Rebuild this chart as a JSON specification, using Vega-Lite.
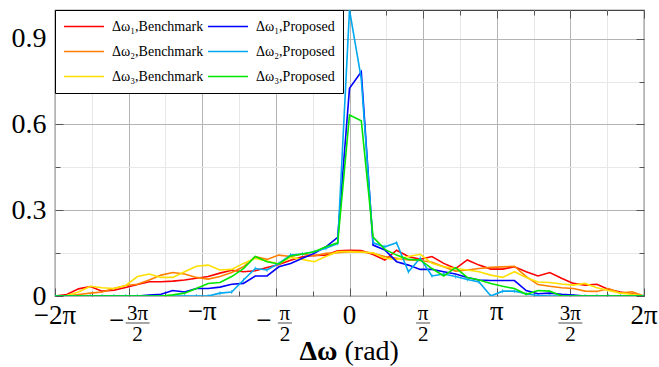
{
  "$schema": "https://vega.github.io/schema/vega-lite/v6.json",
  "width": 589,
  "height": 286,
  "autosize": {"type": "none"},
  "padding": {"left": 55, "top": 10, "right": 15, "bottom": 71},
  "background": "white",
  "config": {
    "view": {"stroke": "#444444", "strokeWidth": 1.2},
    "font": "Liberation Serif, Times New Roman, Times, serif"
  },
  "datasets": {
    "hist": [
      {"x": -6.2832, "b1": 0, "b2": 0, "b3": 0, "p1": 0, "p2": 0, "p3": 0},
      {"x": -6.0319, "b1": 0.005, "b2": 0, "b3": 0.002, "p1": 0, "p2": 0, "p3": 0},
      {"x": -5.7805, "b1": 0.025, "b2": 0.005, "b3": 0.014, "p1": 0, "p2": 0, "p3": 0},
      {"x": -5.5292, "b1": 0.033, "b2": 0.01, "b3": 0.034, "p1": 0, "p2": 0, "p3": 0},
      {"x": -5.2779, "b1": 0.017, "b2": 0.014, "b3": 0.029, "p1": 0, "p2": 0, "p3": 0},
      {"x": -5.0265, "b1": 0.02, "b2": 0.026, "b3": 0.026, "p1": 0, "p2": 0, "p3": 0},
      {"x": -4.7752, "b1": 0.03, "b2": 0.037, "b3": 0.037, "p1": 0, "p2": 0, "p3": 0},
      {"x": -4.5239, "b1": 0.04, "b2": 0.041, "b3": 0.068, "p1": 0, "p2": 0, "p3": 0},
      {"x": -4.2726, "b1": 0.05, "b2": 0.056, "b3": 0.077, "p1": 0.003, "p2": 0, "p3": 0},
      {"x": -4.0212, "b1": 0.05, "b2": 0.073, "b3": 0.065, "p1": 0.006, "p2": 0, "p3": 0},
      {"x": -3.7699, "b1": 0.052, "b2": 0.082, "b3": 0.065, "p1": 0.019, "p2": 0, "p3": 0.004},
      {"x": -3.5186, "b1": 0.056, "b2": 0.077, "b3": 0.085, "p1": 0.014, "p2": 0, "p3": 0.01},
      {"x": -3.2673, "b1": 0.062, "b2": 0.065, "b3": 0.104, "p1": 0.026, "p2": 0, "p3": 0.026},
      {"x": -3.0159, "b1": 0.068, "b2": 0.059, "b3": 0.108, "p1": 0.026, "p2": 0, "p3": 0.044},
      {"x": -2.7646, "b1": 0.08, "b2": 0.068, "b3": 0.091, "p1": 0.031, "p2": 0.01, "p3": 0.047},
      {"x": -2.5133, "b1": 0.09, "b2": 0.082, "b3": 0.093, "p1": 0.041, "p2": 0.014, "p3": 0.068},
      {"x": -2.2619, "b1": 0.085, "b2": 0.102, "b3": 0.114, "p1": 0.044, "p2": 0.056, "p3": 0.096},
      {"x": -2.0106, "b1": 0.088, "b2": 0.138, "b3": 0.132, "p1": 0.07, "p2": 0.096, "p3": 0.138},
      {"x": -1.7593, "b1": 0.1, "b2": 0.128, "b3": 0.122, "p1": 0.07, "p2": 0.091, "p3": 0.12},
      {"x": -1.508, "b1": 0.11, "b2": 0.143, "b3": 0.112, "p1": 0.102, "p2": 0.114, "p3": 0.112},
      {"x": -1.2566, "b1": 0.125, "b2": 0.138, "b3": 0.135, "p1": 0.114, "p2": 0.143, "p3": 0.14},
      {"x": -1.0053, "b1": 0.137, "b2": 0.147, "b3": 0.128, "p1": 0.132, "p2": 0.147, "p3": 0.147},
      {"x": -0.754, "b1": 0.142, "b2": 0.14, "b3": 0.12, "p1": 0.149, "p2": 0.155, "p3": 0.155},
      {"x": -0.5027, "b1": 0.143, "b2": 0.149, "b3": 0.138, "p1": 0.172, "p2": 0.167, "p3": 0.172},
      {"x": -0.2513, "b1": 0.158, "b2": 0.151, "b3": 0.155, "p1": 0.205, "p2": 0.184, "p3": 0.186},
      {"x": 0, "b1": 0.16, "b2": 0.155, "b3": 0.155, "p1": 0.726, "p2": 1.0, "p3": 0.633},
      {"x": 0.2513, "b1": 0.159, "b2": 0.155, "b3": 0.153, "p1": 0.784, "p2": 0.76, "p3": 0.613},
      {"x": 0.5027, "b1": 0.145, "b2": 0.149, "b3": 0.151, "p1": 0.178, "p2": 0.186, "p3": 0.206},
      {"x": 0.754, "b1": 0.126, "b2": 0.138, "b3": 0.132, "p1": 0.161, "p2": 0.172, "p3": 0.163},
      {"x": 1.0053, "b1": 0.16, "b2": 0.132, "b3": 0.128, "p1": 0.12, "p2": 0.186, "p3": 0.143},
      {"x": 1.2566, "b1": 0.138, "b2": 0.126, "b3": 0.138, "p1": 0.108, "p2": 0.085, "p3": 0.128},
      {"x": 1.508, "b1": 0.128, "b2": 0.124, "b3": 0.146, "p1": 0.093, "p2": 0.132, "p3": 0.126},
      {"x": 1.7593, "b1": 0.138, "b2": 0.118, "b3": 0.114, "p1": 0.093, "p2": 0.07, "p3": 0.096},
      {"x": 2.0106, "b1": 0.114, "b2": 0.102, "b3": 0.102, "p1": 0.085, "p2": 0.077, "p3": 0.07},
      {"x": 2.2619, "b1": 0.096, "b2": 0.087, "b3": 0.096, "p1": 0.077, "p2": 0.068, "p3": 0.099},
      {"x": 2.5133, "b1": 0.126, "b2": 0.091, "b3": 0.091, "p1": 0.065, "p2": 0.058, "p3": 0.065},
      {"x": 2.7646, "b1": 0.108, "b2": 0.096, "b3": 0.085, "p1": 0.056, "p2": 0.049, "p3": 0.056},
      {"x": 3.0159, "b1": 0.094, "b2": 0.1, "b3": 0.073, "p1": 0.054, "p2": 0, "p3": 0.044},
      {"x": 3.2673, "b1": 0.094, "b2": 0.102, "b3": 0.065, "p1": 0.054, "p2": 0.017, "p3": 0.034},
      {"x": 3.5186, "b1": 0.102, "b2": 0.104, "b3": 0.085, "p1": 0.054, "p2": 0.017, "p3": 0.026},
      {"x": 3.7699, "b1": 0.085, "b2": 0.068, "b3": 0.065, "p1": 0.019, "p2": 0.008, "p3": 0.006},
      {"x": 4.0212, "b1": 0.07, "b2": 0.04, "b3": 0.049, "p1": 0.008, "p2": 0.002, "p3": 0.019},
      {"x": 4.2726, "b1": 0.082, "b2": 0.034, "b3": 0.047, "p1": 0.01, "p2": 0, "p3": 0.017},
      {"x": 4.5239, "b1": 0.062, "b2": 0.029, "b3": 0.042, "p1": 0.006, "p2": 0, "p3": 0},
      {"x": 4.7752, "b1": 0.044, "b2": 0.026, "b3": 0.038, "p1": 0.003, "p2": 0, "p3": 0},
      {"x": 5.0265, "b1": 0.038, "b2": 0.017, "b3": 0.044, "p1": 0, "p2": 0, "p3": 0},
      {"x": 5.2779, "b1": 0.041, "b2": 0.016, "b3": 0.029, "p1": 0, "p2": 0, "p3": 0},
      {"x": 5.5292, "b1": 0.023, "b2": 0.026, "b3": 0.019, "p1": 0, "p2": 0, "p3": 0},
      {"x": 5.7805, "b1": 0.014, "b2": 0.01, "b3": 0.01, "p1": 0, "p2": 0, "p3": 0},
      {"x": 6.0319, "b1": 0.008, "b2": 0.015, "b3": 0.006, "p1": 0, "p2": 0, "p3": 0},
      {"x": 6.2832, "b1": 0, "b2": 0, "b3": 0, "p1": 0, "p2": 0, "p3": 0}
    ],
    "ticks": [
      {"v": -6.283185, "kind": "digit", "lab": "−2π"},
      {"v": -4.712389, "kind": "negfrac", "num": "3π"},
      {"v": -3.141593, "kind": "pi", "lab": "−π"},
      {"v": -1.570796, "kind": "negfrac", "num": "π"},
      {"v": 0, "kind": "digit", "lab": "0"},
      {"v": 1.570796, "kind": "posfrac", "num": "π"},
      {"v": 3.141593, "kind": "pi", "lab": "π"},
      {"v": 4.712389, "kind": "posfrac", "num": "3π"},
      {"v": 6.283185, "kind": "digit", "lab": "2π"}
    ]
  },
  "layer": [
    {
      "data": {"name": "hist"},
      "mark": {"type": "tick", "orient": "vertical", "size": 4, "thickness": 1, "color": "#00a8f0", "clip": true},
      "encoding": {
        "x": {"field": "x", "type": "quantitative", "scale": {"domain": [-6.283185, 6.283185], "nice": false, "zero": false}, "axis": null},
        "y": {"field": "p2", "type": "quantitative", "scale": {"domain": [0, 1], "nice": false}, "axis": null}
      }
    },
    {
      "data": {"name": "hist"},
      "transform": [{"fold": ["b1", "b2", "b3", "p1", "p2", "p3"], "as": ["s", "y"]}],
      "mark": {"type": "line", "strokeWidth": 1.6, "clip": true},
      "encoding": {
        "x": {
          "field": "x", "type": "quantitative",
          "scale": {"domain": [-6.283185, 6.283185], "nice": false, "zero": false},
          "axis": {
            "orient": "bottom", "title": null, "labels": false, "domain": false,
            "values": [-6.283185, -5.497787, -4.712389, -3.926991, -3.141593, -2.356194, -1.570796, -0.785398, 0, 0.785398, 1.570796, 2.356194, 3.141593, 3.926991, 4.712389, 5.497787, 6.283185],
            "grid": true,
            "gridColor": {"condition": {"test": "abs(datum.value / 1.570796 - round(datum.value / 1.570796)) < 0.01", "value": "#b4b4b4"}, "value": "#e8e8e8"},
            "gridWidth": 1,
            "tickColor": "#555555",
            "tickSize": {"condition": {"test": "abs(datum.value / 1.570796 - round(datum.value / 1.570796)) < 0.01", "value": -8}, "value": -5}
          }
        },
        "y": {
          "field": "y", "type": "quantitative",
          "scale": {"domain": [0, 1], "nice": false},
          "axis": {
            "orient": "left", "title": null, "domain": false,
            "values": [0, 0.15, 0.3, 0.45, 0.6, 0.75, 0.9],
            "labelExpr": "datum.value == 0 ? '0' : (abs(datum.value * 10 / 3 - round(datum.value * 10 / 3)) < 0.01 ? format(datum.value, '.1f') : '')",
            "labelFont": "Liberation Serif, Times New Roman, Times, serif", "labelFontSize": 28, "labelColor": "black", "labelPadding": 17,
            "grid": true,
            "gridColor": {"condition": {"test": "abs(datum.value * 10 / 3 - round(datum.value * 10 / 3)) < 0.01", "value": "#b4b4b4"}, "value": "#e8e8e8"},
            "tickColor": "#555555",
            "tickSize": {"condition": {"test": "abs(datum.value * 10 / 3 - round(datum.value * 10 / 3)) < 0.01", "value": -8}, "value": -5}
          }
        },
        "color": {
          "field": "s", "type": "nominal",
          "scale": {"domain": ["b1", "b2", "b3", "p1", "p2", "p3"], "range": ["#ff0000", "#ff8000", "#ffe000", "#0000ff", "#00a8f0", "#00e600"]},
          "legend": {
            "orient": "top-left", "offset": 0, "title": null, "columns": 2,
            "symbolType": "stroke", "symbolSize": 1600, "symbolStrokeWidth": 1.6,
            "labelFont": "Liberation Serif, Times New Roman, Times, serif", "labelFontSize": 14, "labelColor": "black", "labelOffset": 7, "labelLimit": 200,
            "labelExpr": "{'b1': 'Δω₁,Benchmark', 'b2': 'Δω₂,Benchmark', 'b3': 'Δω₃,Benchmark', 'p1': 'Δω₁,Proposed', 'p2': 'Δω₂,Proposed', 'p3': 'Δω₃,Proposed'}[datum.label]",
            "padding": 8, "rowPadding": 8, "columnPadding": 3, "clipHeight": 17,
            "strokeColor": "black", "fillColor": "white", "cornerRadius": 0
          }
        }
      }
    },
    {
      "data": {"name": "hist"},
      "mark": {"type": "point", "opacity": 0, "size": 1},
      "encoding": {
        "x": {
          "field": "x", "type": "quantitative",
          "scale": {"domain": [-6.283185, 6.283185], "nice": false, "zero": false},
          "axis": {
            "orient": "top", "title": null, "labels": false, "domain": false, "grid": false,
            "values": [-6.283185, -5.497787, -4.712389, -3.926991, -3.141593, -2.356194, -1.570796, -0.785398, 0, 0.785398, 1.570796, 2.356194, 3.141593, 3.926991, 4.712389, 5.497787, 6.283185],
            "tickColor": "#555555",
            "tickSize": {"condition": {"test": "abs(datum.value / 1.570796 - round(datum.value / 1.570796)) < 0.01", "value": -8}, "value": -5}
          }
        },
        "y": {
          "field": "b1", "type": "quantitative",
          "scale": {"domain": [0, 1], "nice": false},
          "axis": {
            "orient": "right", "title": null, "labels": false, "domain": false, "grid": false,
            "values": [0, 0.15, 0.3, 0.45, 0.6, 0.75, 0.9],
            "tickColor": "#555555",
            "tickSize": {"condition": {"test": "abs(datum.value * 10 / 3 - round(datum.value * 10 / 3)) < 0.01", "value": -8}, "value": -5}
          }
        }
      }
    },
    {
      "data": {"name": "ticks"},
      "transform": [{"filter": "datum.kind == 'digit'"}],
      "mark": {"type": "text", "font": "Liberation Serif, Times New Roman, Times, serif", "fontSize": 27, "color": "black", "align": "center", "baseline": "alphabetic", "dy": 28},
      "encoding": {
        "x": {"field": "v", "type": "quantitative", "axis": null},
        "y": {"datum": 0, "axis": null},
        "text": {"field": "lab"}
      }
    },
    {
      "data": {"name": "ticks"},
      "transform": [{"filter": "datum.kind == 'pi'"}],
      "mark": {"type": "text", "font": "Liberation Serif, Times New Roman, Times, serif", "fontSize": 27, "color": "black", "align": "center", "baseline": "alphabetic", "dy": 24},
      "encoding": {
        "x": {"field": "v", "type": "quantitative", "axis": null},
        "y": {"datum": 0, "axis": null},
        "text": {"field": "lab"}
      }
    },
    {
      "data": {"name": "ticks"},
      "transform": [{"filter": "datum.kind == 'negfrac'"}],
      "mark": {"type": "text", "text": "−", "font": "Liberation Serif, Times New Roman, Times, serif", "fontSize": 27, "color": "black", "align": "center", "baseline": "alphabetic", "dx": -12, "dy": 33},
      "encoding": {
        "x": {"field": "v", "type": "quantitative", "axis": null},
        "y": {"datum": 0, "axis": null}
      }
    },
    {
      "data": {"name": "ticks"},
      "transform": [{"filter": "datum.kind == 'negfrac'"}],
      "mark": {"type": "text", "font": "Liberation Serif, Times New Roman, Times, serif", "fontSize": 21, "color": "black", "align": "center", "baseline": "alphabetic", "dx": 9, "dy": 24},
      "encoding": {
        "x": {"field": "v", "type": "quantitative", "axis": null},
        "y": {"datum": 0, "axis": null},
        "text": {"field": "num"}
      }
    },
    {
      "data": {"name": "ticks"},
      "transform": [{"filter": "datum.kind == 'negfrac'"}],
      "mark": {"type": "text", "text": "2", "font": "Liberation Serif, Times New Roman, Times, serif", "fontSize": 21, "color": "black", "align": "center", "baseline": "alphabetic", "dx": 9, "dy": 45},
      "encoding": {
        "x": {"field": "v", "type": "quantitative", "axis": null},
        "y": {"datum": 0, "axis": null}
      }
    },
    {
      "data": {"name": "ticks"},
      "transform": [{"filter": "datum.kind == 'negfrac'"}],
      "mark": {"type": "tick", "orient": "horizontal", "thickness": 1, "color": "black", "xOffset": 9, "yOffset": 27},
      "encoding": {
        "x": {"field": "v", "type": "quantitative", "axis": null},
        "y": {"datum": 0, "axis": null},
        "size": {"field": "num", "type": "ordinal", "scale": {"domain": ["π", "3π"], "range": [14, 24]}, "legend": null}
      }
    },
    {
      "data": {"name": "ticks"},
      "transform": [{"filter": "datum.kind == 'posfrac'"}],
      "mark": {"type": "text", "font": "Liberation Serif, Times New Roman, Times, serif", "fontSize": 21, "color": "black", "align": "center", "baseline": "alphabetic", "dy": 24},
      "encoding": {
        "x": {"field": "v", "type": "quantitative", "axis": null},
        "y": {"datum": 0, "axis": null},
        "text": {"field": "num"}
      }
    },
    {
      "data": {"name": "ticks"},
      "transform": [{"filter": "datum.kind == 'posfrac'"}],
      "mark": {"type": "text", "text": "2", "font": "Liberation Serif, Times New Roman, Times, serif", "fontSize": 21, "color": "black", "align": "center", "baseline": "alphabetic", "dy": 45},
      "encoding": {
        "x": {"field": "v", "type": "quantitative", "axis": null},
        "y": {"datum": 0, "axis": null}
      }
    },
    {
      "data": {"name": "ticks"},
      "transform": [{"filter": "datum.kind == 'posfrac'"}],
      "mark": {"type": "tick", "orient": "horizontal", "thickness": 1, "color": "black", "yOffset": 27},
      "encoding": {
        "x": {"field": "v", "type": "quantitative", "axis": null},
        "y": {"datum": 0, "axis": null},
        "size": {"field": "num", "type": "ordinal", "scale": {"domain": ["π", "3π"], "range": [14, 24]}, "legend": null}
      }
    },
    {
      "data": {"values": [{}]},
      "mark": {"type": "text", "text": "Δω", "font": "Liberation Serif, Times New Roman, Times, serif", "fontSize": 28, "fontWeight": "bold", "color": "black", "align": "right", "baseline": "alphabetic", "dx": -12, "dy": 64},
      "encoding": {
        "x": {"datum": 0, "axis": null},
        "y": {"datum": 0, "axis": null}
      }
    },
    {
      "data": {"values": [{}]},
      "mark": {"type": "text", "text": "(rad)", "font": "Liberation Serif, Times New Roman, Times, serif", "fontSize": 28, "color": "black", "align": "left", "baseline": "alphabetic", "dx": -5, "dy": 64},
      "encoding": {
        "x": {"datum": 0, "axis": null},
        "y": {"datum": 0, "axis": null}
      }
    }
  ],
  "resolve": {"axis": {"x": "independent", "y": "independent"}}
}
